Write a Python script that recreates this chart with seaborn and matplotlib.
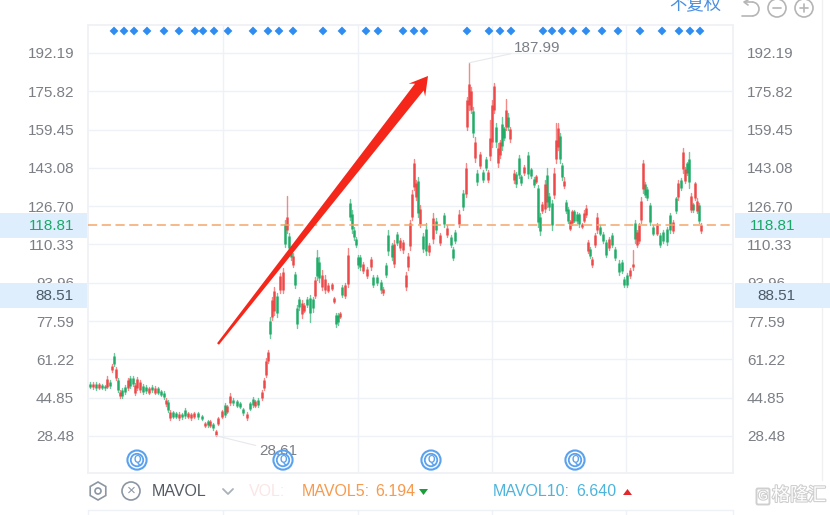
import matplotlib
matplotlib.use("Agg")
import matplotlib.patheffects as pe
import matplotlib.pyplot as plt
import numpy as np
import pandas as pd
import seaborn as sns
from matplotlib.lines import Line2D
from matplotlib.patches import Arc, Circle, FancyBboxPatch, Polygon, Rectangle, RegularPolygon
from matplotlib.transforms import Affine2D

# ── Data ──────────────────────────────────────────────────────────────────────

session = [
    90, 93, 96, 99, 102, 105, 107, 110, 112, 114,
    116, 118, 120, 122, 125, 128, 130, 133, 135, 137,
    140, 143, 146, 149, 152, 155, 158, 161, 164, 166,
    168, 170, 173, 176, 179, 182, 185, 188, 191, 194,
    198, 202, 205, 208, 210, 213, 216, 218, 222, 225,
    227, 230, 233, 237, 240, 243, 247, 250, 253, 255,
    258, 262, 264, 266, 268, 270, 272, 274, 277, 280,
    283, 285, 287, 289, 291, 293, 295, 297, 299, 302,
    304, 307, 310, 313, 315, 317, 319, 322, 325, 328,
    332, 334, 336, 338, 340, 342, 345, 348, 350, 352,
    354, 356, 358, 360, 363, 367, 371, 373, 377, 381,
    383, 386, 388, 392, 394, 397, 400, 403, 406, 408,
    410, 412, 414, 416, 418, 420, 423, 426, 429, 433,
    436, 440, 444, 447, 451, 453, 455, 459, 463, 466,
    467, 469, 471, 473, 475, 477, 480, 483, 486, 488,
    490, 492, 494, 496, 498, 500, 502, 504, 506, 508,
    510, 514, 516, 519, 521, 524, 528, 531, 534, 536,
    538, 540, 542, 545, 547, 549, 552, 554, 556, 558,
    560, 562, 564, 566, 568, 570, 572, 574, 577, 579,
    582, 584, 586, 588, 590, 592, 595, 597, 600, 603,
    606, 609, 612, 615, 619, 622, 624, 627, 630, 633,
    635, 637, 639, 641, 643, 645, 647, 650, 653, 657,
    660, 663, 667, 670, 673, 676, 678, 681, 683, 685,
    687, 689, 691, 693, 695, 697, 699, 701,
]
high = [
    51.6, 51.6, 51.6, 51.1, 50.7, 50.3, 54.1, 52.4, 59.3, 63.9,
    58.0, 53.3, 48.1, 49.0, 50.3, 53.3, 54.1, 54.1, 51.1, 53.7,
    52.4, 50.7, 50.3, 49.4, 50.3, 49.8, 49.4, 48.1, 47.7, 44.7,
    43.9, 39.6, 39.1, 38.7, 38.7, 38.3, 40.4, 38.7, 38.3, 38.7,
    38.7, 37.4, 34.5, 35.3, 35.3, 34.0, 31.0, 36.6, 39.6, 42.6,
    41.7, 46.8, 44.7, 43.9, 43.0, 40.4, 38.7, 43.0, 45.1, 43.9,
    44.7, 48.1, 53.3, 61.8, 65.2, 79.3, 87.9, 92.2, 89.6, 98.2,
    100.3, 120.8, 131.1, 115.2, 109.3, 106.7, 98.6, 84.5, 87.9, 86.6,
    85.3, 87.9, 88.7, 87.9, 96.4, 108.0, 105.0, 99.4, 97.3, 93.9,
    93.9, 87.9, 81.0, 81.0, 81.5, 93.0, 93.9, 108.8, 129.8, 125.1,
    117.8, 113.5, 105.8, 105.8, 102.8, 100.7, 105.0, 97.3, 97.3, 95.2,
    92.2, 102.4, 116.5, 111.0, 112.3, 115.6, 113.1, 112.3, 98.6, 106.7,
    120.8, 133.6, 146.9, 137.9, 139.2, 127.2, 115.2, 119.5, 111.0, 123.8,
    121.7, 115.2, 123.8, 118.7, 114.4, 109.3, 116.5, 125.1, 133.6, 145.2,
    173.4, 187.99, 177.7, 169.1, 156.3, 142.2, 149.9, 142.2, 147.7, 142.2,
    163.5, 172.1, 179.4, 162.3, 153.7, 155.0, 164.8, 160.6, 172.5, 166.5,
    160.6, 142.2, 141.3, 148.6, 140.0, 144.3, 149.9, 143.0, 139.2, 140.0,
    135.8, 123.8, 128.5, 137.9, 143.0, 132.3, 129.3, 143.0, 162.3, 162.3,
    158.0, 145.2, 139.2, 129.3, 126.4, 120.8, 125.1, 125.1, 124.2, 123.8,
    119.5, 125.1, 127.2, 112.3, 109.3, 105.0, 115.2, 123.8, 118.7, 115.7,
    112.3, 113.5, 115.2, 109.3, 103.7, 103.7, 96.4, 98.2, 100.3, 108.0,
    120.8, 116.5, 119.5, 130.6, 146.4, 137.0, 134.9, 128.1, 118.7, 119.5,
    115.2, 116.5, 117.8, 123.8, 120.8, 130.6, 137.9, 138.8, 151.6, 143.5,
    145.6, 149.9, 132.3, 128.1, 137.0, 130.2, 128.1, 119.5,
]
low = [
    49.0, 48.6, 48.1, 48.6, 48.6, 48.1, 49.0, 49.0, 55.8, 58.4,
    52.4, 47.3, 44.7, 44.7, 46.4, 48.1, 49.0, 49.8, 46.0, 48.1,
    47.3, 46.4, 46.8, 46.4, 47.3, 46.4, 46.4, 45.6, 44.3, 41.3,
    38.7, 35.3, 36.2, 36.2, 35.3, 35.7, 36.2, 36.2, 35.3, 36.2,
    35.7, 35.3, 32.3, 32.3, 32.3, 31.0, 28.61, 33.2, 36.2, 36.6,
    38.3, 41.7, 41.7, 40.9, 40.4, 37.4, 35.3, 39.6, 40.9, 40.9,
    40.9, 43.9, 48.1, 53.7, 59.7, 70.4, 78.1, 80.0, 79.3, 89.6,
    89.6, 109.3, 115.2, 108.0, 103.7, 100.7, 91.7, 74.6, 82.3, 78.9,
    81.5, 83.6, 77.2, 81.5, 87.5, 95.2, 94.3, 90.9, 89.6, 90.0,
    90.9, 85.3, 75.1, 75.9, 78.9, 87.9, 87.5, 92.2, 120.8, 115.2,
    112.3, 109.3, 100.3, 99.4, 98.2, 96.0, 99.4, 92.2, 93.0, 89.6,
    88.7, 96.4, 105.8, 103.7, 100.7, 110.1, 108.0, 106.7, 90.9, 99.4,
    108.0, 120.8, 133.6, 129.3, 122.1, 117.8, 107.1, 105.8, 105.8, 111.0,
    115.2, 110.1, 117.8, 113.5, 109.3, 103.7, 111.0, 117.8, 125.1, 130.6,
    159.3, 167.8, 166.5, 156.3, 145.6, 135.8, 143.0, 137.0, 142.2, 137.0,
    146.5, 152.0, 166.5, 152.0, 143.5, 147.3, 150.7, 155.0, 159.3, 159.3,
    154.1, 136.6, 134.9, 138.8, 135.8, 140.0, 138.8, 138.8, 134.9, 136.6,
    117.8, 114.4, 123.8, 124.2, 126.4, 125.1, 116.5, 130.2, 145.2, 150.7,
    145.2, 137.9, 134.5, 123.8, 119.5, 116.5, 118.7, 119.9, 119.5, 117.8,
    117.3, 119.9, 122.1, 106.7, 104.6, 100.7, 109.3, 115.2, 114.4, 111.0,
    105.0, 108.0, 109.3, 103.7, 97.3, 98.2, 92.2, 92.2, 96.0, 99.4,
    111.0, 109.3, 111.0, 119.5, 132.3, 130.6, 129.3, 118.7, 114.4, 114.4,
    109.3, 111.0, 110.1, 115.2, 115.2, 123.8, 129.3, 133.6, 140.9, 136.6,
    140.0, 134.5, 124.2, 124.2, 129.3, 123.8, 119.5, 115.2,
]
open_ = [
    50.9, 49.4, 50.8, 49.2, 50.2, 49.9, 49.6, 51.6, 56.5, 62.5,
    53.3, 52.4, 45.4, 48.0, 49.4, 49.0, 53.3, 53.2, 46.9, 49.0,
    48.2, 49.8, 49.5, 47.0, 49.6, 47.0, 48.8, 47.6, 47.0, 42.0,
    43.0, 36.2, 38.7, 38.3, 36.2, 37.9, 39.6, 36.8, 36.0, 36.6,
    38.3, 37.0, 32.7, 34.9, 32.8, 33.6, 29.0, 33.6, 36.6, 41.7,
    38.7, 42.6, 44.0, 43.4, 42.4, 40.0, 36.0, 42.4, 44.4, 41.3,
    43.9, 44.7, 48.8, 54.5, 60.5, 77.5, 79.5, 82.0, 88.5, 90.8,
    91.0, 119.0, 116.5, 114.0, 108.5, 101.5, 97.8, 83.0, 87.0, 80.5,
    82.0, 87.0, 87.5, 87.0, 88.5, 105.0, 103.0, 92.0, 90.8, 90.6,
    91.5, 85.8, 80.0, 80.0, 79.5, 92.0, 88.5, 93.5, 128.0, 123.5,
    116.5, 112.5, 105.0, 105.0, 99.0, 96.8, 100.5, 96.5, 96.5, 94.5,
    89.5, 101.5, 114.5, 110.0, 102.0, 114.8, 109.0, 108.0, 92.0, 100.5,
    109.5, 122.0, 135.0, 130.5, 137.5, 119.0, 114.0, 117.0, 107.0, 112.5,
    120.5, 111.0, 123.0, 114.5, 113.5, 108.5, 115.5, 119.0, 132.5, 132.0,
    160.5, 170.0, 168.0, 167.5, 147.5, 141.0, 144.0, 141.5, 147.0, 138.0,
    148.0, 154.0, 168.0, 160.5, 145.0, 148.5, 162.0, 160.0, 160.5, 165.0,
    155.5, 138.0, 140.5, 147.5, 139.4, 141.0, 148.5, 142.5, 138.5, 137.0,
    134.5, 122.0, 124.5, 125.5, 140.0, 131.0, 128.0, 131.5, 147.0, 152.0,
    156.5, 144.5, 135.2, 128.5, 125.5, 117.0, 119.5, 124.5, 123.5, 123.2,
    117.8, 120.5, 122.8, 107.5, 108.5, 101.5, 110.0, 116.5, 118.0, 115.0,
    111.5, 109.0, 114.5, 108.5, 102.5, 103.0, 95.5, 97.5, 96.8, 100.5,
    119.5, 110.0, 112.0, 121.0, 134.0, 136.0, 134.0, 127.0, 118.0, 115.0,
    114.5, 115.5, 117.0, 123.0, 116.0, 130.0, 130.5, 138.0, 142.5, 137.5,
    145.0, 147.0, 125.0, 127.5, 130.0, 124.5, 127.0, 116.0,
]
close = [
    49.6, 50.9, 49.0, 50.5, 49.0, 48.8, 53.0, 49.8, 58.6, 59.2,
    57.0, 48.2, 47.2, 45.5, 47.2, 52.4, 50.0, 50.7, 50.3, 52.8,
    51.6, 47.3, 47.7, 48.8, 48.0, 49.2, 47.0, 46.1, 45.0, 44.0,
    39.6, 38.7, 36.8, 36.8, 38.0, 36.4, 37.0, 38.3, 37.9, 38.3,
    36.4, 35.9, 34.0, 33.0, 34.9, 31.8, 30.4, 36.0, 39.0, 37.4,
    41.3, 45.5, 42.4, 41.5, 41.0, 38.2, 37.9, 40.2, 41.7, 43.4,
    41.7, 47.3, 52.4, 60.5, 64.3, 72.0, 86.5, 90.5, 81.0, 97.0,
    98.5, 110.5, 122.0, 109.0, 104.8, 105.5, 93.0, 76.5, 83.5, 85.5,
    84.5, 84.5, 81.0, 83.0, 95.0, 97.0, 96.0, 97.5, 95.5, 93.0,
    93.5, 87.4, 76.5, 77.0, 81.0, 88.8, 93.0, 106.0, 122.0, 117.0,
    113.5, 110.2, 101.5, 100.5, 102.0, 99.8, 104.0, 93.2, 94.0, 90.8,
    91.5, 97.5, 107.5, 105.0, 110.5, 111.0, 112.3, 111.5, 97.5, 105.5,
    119.5, 132.0, 145.0, 136.5, 124.0, 125.5, 108.5, 107.5, 110.0, 121.5,
    116.5, 114.5, 119.0, 117.5, 110.3, 104.7, 112.0, 123.5, 126.5, 143.0,
    172.0, 179.0, 176.0, 158.0, 154.0, 137.0, 149.0, 138.0, 143.0, 141.5,
    156.0, 170.0, 178.0, 154.0, 151.5, 154.0, 152.5, 156.0, 168.0, 160.5,
    159.5, 141.0, 136.0, 140.0, 136.5, 143.5, 140.5, 139.5, 135.8, 139.5,
    120.0, 116.0, 127.8, 136.0, 128.5, 126.5, 118.5, 141.0, 155.0, 160.0,
    147.0, 139.0, 137.5, 124.8, 120.5, 120.3, 124.5, 120.5, 120.2, 119.0,
    119.0, 124.0, 126.0, 111.5, 105.5, 104.0, 114.5, 122.0, 115.0, 112.0,
    106.0, 112.5, 110.0, 104.7, 98.5, 99.0, 93.0, 93.0, 99.5, 102.0,
    112.5, 115.5, 118.5, 129.0, 145.0, 131.5, 130.2, 120.0, 115.0, 118.8,
    110.0, 111.8, 111.5, 116.5, 119.8, 124.8, 136.5, 134.5, 150.0, 142.5,
    141.0, 137.0, 131.0, 125.0, 136.5, 129.0, 120.5, 118.81,
]

price_ticks = [192.19, 175.82, 159.45, 143.08, 126.70, 110.33, 93.96, 77.59, 61.22, 44.85, 28.48]
grid_sessions = [223, 358, 492, 626]
signal_sessions = [
    114, 124, 134, 147, 164, 179, 195, 203, 214, 228, 253, 268, 279, 293,
    323, 342, 366, 378, 403, 414, 424, 467, 489, 500, 511, 543, 552, 562,
    573, 586, 602, 618, 640, 662, 679, 690, 700,
]
news_sessions = [137, 283, 431, 575]
last_price = 118.81
cursor_price = 88.51
max_price = 187.99
min_price = 28.61

UP, DOWN = "#ec3a3a", "#0fa55c"
TEXT_GREY = "#7b7f85"
GRID = "#eef1f5"
BAND = "#deeefc"

# ── Setup ─────────────────────────────────────────────────────────────────────

sns.set_theme(style="white")
plt.rcParams["font.family"] = ["Liberation Sans", "Noto Sans CJK SC", "DejaVu Sans"]

fig = plt.figure(figsize=(8.3, 5.15), dpi=100)
ax = fig.add_axes([88 / 830, 1 - 473 / 515, 645 / 830, 448 / 515])
PX = Affine2D().scale(1, -1).translate(0, 515)   # picture pixels, origin top-left

# ── Candles ───────────────────────────────────────────────────────────────────

bars = pd.DataFrame({"session": session, "high": high, "low": low, "open": open_, "close": close})
bars["side"] = np.where(bars["close"] >= bars["open"], "up", "down")
palette = {"up": UP, "down": DOWN}

wicks = bars.melt(id_vars=["session", "side"], value_vars=["high", "low"], value_name="price")
bodies = bars.melt(id_vars=["session", "side"], value_vars=["open", "close"], value_name="price")

sns.lineplot(data=wicks, x="session", y="price", hue="side", units="session", estimator=None,
             sort=False, palette=palette, lw=1.0, alpha=0.6, legend=False, ax=ax)
sns.lineplot(data=bodies, x="session", y="price", hue="side", units="session", estimator=None,
             sort=False, palette=palette, lw=1.9, alpha=0.8, legend=False, ax=ax,
             solid_capstyle="butt")

# ── Markers on the chart ──────────────────────────────────────────────────────

sns.scatterplot(x=signal_sessions, y=[201.6] * len(signal_sessions), marker="D", s=20,
                color="#2f8cf0", edgecolor="none", ax=ax, zorder=4)
sns.scatterplot(x=news_sessions, y=[18.2] * len(news_sessions), s=190, facecolor="none",
                edgecolor="#5aa2ee", linewidth=1.5, ax=ax, zorder=4)
sns.scatterplot(x=news_sessions, y=[18.2] * len(news_sessions), s=80, facecolor="none",
                edgecolor="#5aa2ee", linewidth=1.3, ax=ax, zorder=4)
for s in news_sessions:
    ax.text(s, 18.2, "Q", color="#5aa2ee", fontsize=7, fontweight="bold", ha="center", va="center", zorder=4)

ax.axhline(last_price, color="#f4a66a", lw=1.1, dashes=(6, 3), zorder=3)

ax.annotate(f"{max_price:.2f}", xy=(469, max_price), xytext=(514, 48), textcoords=PX,
            color=TEXT_GREY, fontsize=11, va="center",
            arrowprops=dict(arrowstyle="-", color="#e6e8ec", lw=0.8, shrinkA=0, shrinkB=0))
ax.annotate(f"{min_price:.2f}", xy=(216, min_price), xytext=(259, 451), textcoords=PX,
            color=TEXT_GREY, fontsize=11, va="center",
            arrowprops=dict(arrowstyle="-", color="#e6e8ec", lw=0.8, shrinkA=0, shrinkB=0))

# ── Axes ──────────────────────────────────────────────────────────────────────

ax.set_xlim(88, 733)
ax.set_ylim(12.66, 204.15)
ax.set_xticks(grid_sessions)
ax.set_xticklabels([])
ax.set_yticks(price_ticks)
ax.set_yticklabels([f"{t:.2f}" for t in price_ticks])
ax.set_xlabel("")
ax.set_ylabel("")
ax.grid(True, color=GRID, lw=1)
ax.set_axisbelow(True)
ax.tick_params(axis="both", length=0)
ax.tick_params(axis="y", labelleft=True, labelright=True, pad=10, labelsize=11, labelcolor=TEXT_GREY)
for spine in ax.spines.values():
    spine.set_color(GRID)

# ── Price flags in the margins ────────────────────────────────────────────────

for x0, w in [(0, 87), (735, 95)]:
    for y0, h in [(213, 25), (283, 25)]:
        ax.add_patch(Rectangle((x0, y0), w, h, transform=PX, color=BAND, lw=0, clip_on=False, zorder=5))
for x_right in [74, 795]:
    ax.text(x_right, 225.5, f"{last_price:.2f}", transform=PX, color="#18a868", fontsize=11,
            ha="right", va="center", zorder=6)
    ax.text(x_right, 295.5, f"{cursor_price:.2f}", transform=PX, color="#4d5a68", fontsize=11,
            ha="right", va="center", zorder=6)

# ── Red arrow drawn over the chart ────────────────────────────────────────────

tail, tip = np.array([218.0, 344.0]), np.array([428.0, 76.0])
along = (tip - tail) / np.linalg.norm(tip - tail)
across = np.array([-along[1], along[0]])
outline = [tail + 1.2 * across, tip - 14 * along + 5.5 * across, tip - 18 * along + 10.5 * across, tip,
           tip - 18 * along - 10.5 * across, tip - 14 * along - 5.5 * across, tail - 1.2 * across]
ax.add_patch(Polygon(outline, closed=True, transform=PX, color="#f5261a", lw=0, clip_on=False, zorder=7))

# ── Toolbar row under the chart ───────────────────────────────────────────────

icon = "#8c96a3"
ax.add_line(Line2D([88, 733], [510, 510], transform=PX, color=GRID, lw=1, clip_on=False))
for x in [88] + grid_sessions + [733]:
    ax.add_line(Line2D([x, x], [510, 515], transform=PX, color=GRID, lw=1, clip_on=False))
ax.add_patch(RegularPolygon((98, 491), 6, radius=9, transform=PX, fill=False, ec=icon, lw=1.2, clip_on=False))
ax.add_patch(Circle((98, 491), 3, transform=PX, fill=False, ec=icon, lw=1.2, clip_on=False))
ax.add_patch(Circle((131, 491), 9, transform=PX, fill=False, ec=icon, lw=1.2, clip_on=False))
ax.text(131, 491, "×", transform=PX, color=icon, fontsize=11, ha="center", va="center", clip_on=False)
ax.add_line(Line2D([223, 228, 233], [489, 494, 489], transform=PX, color="#a9b1ba", lw=1.3, clip_on=False))

row = [(152, "MAVOL", "#555b62"), (249, "VOL:", "#fbe6e6"), (302, "MAVOL5:", "#f79a4d"),
       (375, "6.194", "#f79a4d"), (493, "MAVOL10:", "#4db4dc"), (576, "6.640", "#4db4dc")]
for x, label, colour in row:
    ax.text(x, 491, label, transform=PX, color=colour, fontsize=11.5, va="center", clip_on=False)
ax.add_patch(Polygon([(419, 489), (428, 489), (423.5, 495)], transform=PX, color="#1b9e3a", lw=0, clip_on=False))
ax.add_patch(Polygon([(623, 495), (632, 495), (627.5, 489)], transform=PX, color="#e5262b", lw=0, clip_on=False))

# ── Top right controls, watermark ─────────────────────────────────────────────

ax.text(695, 4, "不复权", transform=PX, color="#4a8fe0", fontsize=12.5, ha="center", va="center", clip_on=False)
grey = "#b5b5b5"
ax.add_patch(Arc((752, 9), 14, 14, theta1=-90, theta2=90, transform=PX, ec=grey, lw=1.2, clip_on=False))
ax.add_line(Line2D([745, 752], [2, 2], transform=PX, color=grey, lw=1.2, clip_on=False))
ax.add_line(Line2D([742, 752], [16, 16], transform=PX, color=grey, lw=1.2, clip_on=False))
ax.add_line(Line2D([748, 744, 748], [0, 2, 5], transform=PX, color=grey, lw=1.2, clip_on=False))
ax.add_patch(Circle((777, 8), 9, transform=PX, fill=False, ec=grey, lw=1.2, clip_on=False))
ax.add_patch(Circle((804, 8), 9, transform=PX, fill=False, ec=grey, lw=1.2, clip_on=False))
ax.add_line(Line2D([773, 781], [8, 8], transform=PX, color=grey, lw=1.2, clip_on=False))
ax.add_line(Line2D([800, 808], [8, 8], transform=PX, color=grey, lw=1.2, clip_on=False))
ax.add_line(Line2D([804, 804], [4, 12], transform=PX, color=grey, lw=1.2, clip_on=False))
ax.add_line(Line2D([822, 822], [0, 480], transform=PX, color="#f0f0f0", lw=1, clip_on=False))

hollow = [pe.withStroke(linewidth=1.6, foreground="#cfcfcf")]
ax.text(799, 496, "格隆汇", transform=PX, color="white", fontsize=13, ha="center", va="center",
        clip_on=False, path_effects=hollow)
ax.add_patch(FancyBboxPatch((758, 490), 10, 13, boxstyle="round,pad=1.5", transform=PX, fill=False,
                            ec="#cfcfcf", lw=1.4, clip_on=False))
ax.text(763, 496.5, "G", transform=PX, color="white", fontsize=9, ha="center", va="center",
        clip_on=False, path_effects=hollow)

fig.savefig("out.png", dpi=100)
plt.close(fig)
